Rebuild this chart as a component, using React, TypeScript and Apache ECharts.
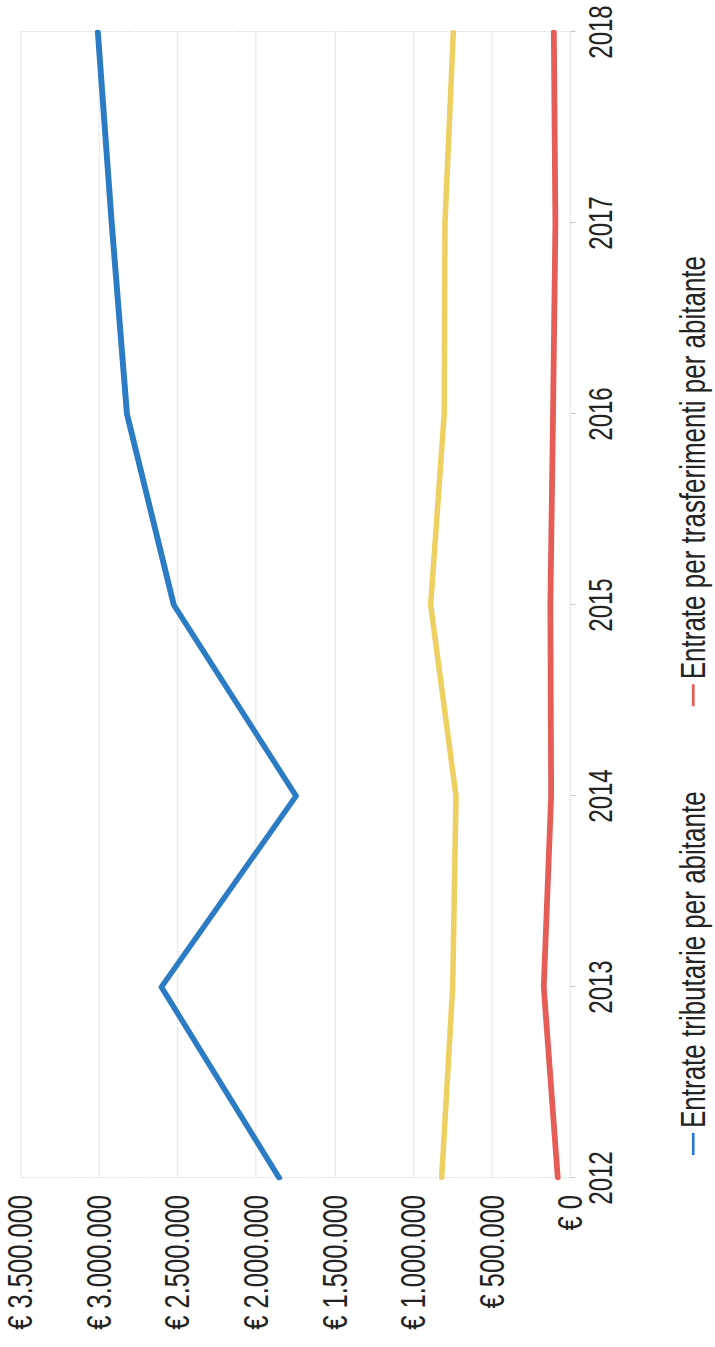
import React, { useEffect, useRef } from "react";
import * as echarts from "echarts";

// Years on the category axis
const YEARS = ["2012", "2013", "2014", "2015", "2016", "2017", "2018"];

// Revenue per inhabitant, in euro
const ENTRATE_TRIBUTARIE = [1852000, 2601000, 1745000, 2522000, 2820000, 2917000, 3005000];
const ENTRATE_EXTRATRIBUTARIE = [819000, 749000, 728000, 889000, 803000, 798000, 745000];
const ENTRATE_TRASFERIMENTI = [81000, 170000, 123000, 128000, 111000, 96000, 106000];

const SERIES_NAMES = [
  "Entrate tributarie per abitante",
  "Entrate extratributarie per abitante",
  "Entrate per trasferimenti per abitante",
];
const LEGEND_NAMES = [SERIES_NAMES[0], SERIES_NAMES[2]];

// Value axis range
const VALUE_MIN = 0;
const VALUE_MAX = 3500000;
const VALUE_STEP = 500000;

const PAGE_W = 715;
const PAGE_H = 1347;
const STRETCH = 1.35; // vertical stretch of the chart before it is turned on its side
const CHART_W = PAGE_H;
const CHART_H = PAGE_W / STRETCH;

const FONT = "'Liberation Sans', Arial, sans-serif";
const TEXT = "#232323";
const LEGEND_FONT = 26;

function euro(v: number): string {
  const s = Math.round(v).toString().replace(/\B(?=(\d{3})+(?!\d))/g, ".");
  return "€ " + s;
}

export default function App() {
  const ref = useRef<HTMLDivElement>(null);

  useEffect(() => {
    if (!ref.current) return;
    const chart = echarts.init(ref.current, undefined, { renderer: "svg" });
    const s = (px: number) => px / STRETCH;
    chart.setOption({
      animation: false,
      backgroundColor: "#ffffff",
      textStyle: { fontFamily: FONT },
      grid: {
        left: 169,
        right: 32,
        top: s(20),
        bottom: s(145),
        containLabel: false,
        show: false,
      },
      legend: {
        data: LEGEND_NAMES,
        left: 187,
        top: s(690) - LEGEND_FONT * 0.6,
        icon: "rect",
        itemWidth: 22,
        itemHeight: 2,
        itemGap: 85,
        textStyle: { fontSize: LEGEND_FONT, color: TEXT, fontFamily: FONT },
      },
      xAxis: {
        type: "category",
        data: YEARS,
        boundaryGap: false,
        axisLine: { show: false },
        axisTick: { show: true, length: 3.6, lineStyle: { color: "#c4c4c4" } },
        axisLabel: { fontSize: 24, color: TEXT, margin: 10, fontFamily: FONT },
        splitLine: {
          show: true,
          interval: (i: number) => i === 0 || i === YEARS.length - 1,
          lineStyle: { type: "dotted", color: "#d8d8d8", width: 1 },
        },
      },
      yAxis: {
        type: "value",
        min: VALUE_MIN,
        max: VALUE_MAX,
        interval: VALUE_STEP,
        axisLine: { show: false },
        axisTick: { show: false },
        axisLabel: {
          fontSize: 25.5,
          color: TEXT,
          margin: 17,
          fontFamily: FONT,
          formatter: (v: number) => euro(v),
        },
        splitLine: { lineStyle: { type: "dotted", color: "#d6d6d6", width: 1 } },
      },
      series: [
        {
          name: SERIES_NAMES[0],
          type: "line",
          data: ENTRATE_TRIBUTARIE,
          symbol: "none",
          lineStyle: { color: "#2b7cc4", width: 4.4, join: "round", cap: "round" },
          itemStyle: { color: "#2b7cc4" },
        },
        {
          name: SERIES_NAMES[1],
          type: "line",
          data: ENTRATE_EXTRATRIBUTARIE,
          symbol: "none",
          lineStyle: { color: "#eecf62", width: 4.1, join: "round", cap: "round" },
          itemStyle: { color: "#eecf62" },
        },
        {
          name: SERIES_NAMES[2],
          type: "line",
          data: ENTRATE_TRASFERIMENTI,
          symbol: "none",
          lineStyle: { color: "#e65d57", width: 4.3, join: "round", cap: "round" },
          itemStyle: { color: "#e65d57" },
        },
      ],
    });
    return () => chart.dispose();
  }, []);

  return (
    <div
      style={{
        position: "absolute",
        left: 0,
        top: 0,
        width: PAGE_W,
        height: PAGE_H,
        overflow: "hidden",
        background: "#ffffff",
      }}
    >
      <div
        ref={ref}
        style={{
          width: CHART_W,
          height: CHART_H,
          transformOrigin: "0 0",
          transform: `translateY(${PAGE_H}px) rotate(-90deg) scaleY(${STRETCH})`,
        }}
      />
    </div>
  );
}
